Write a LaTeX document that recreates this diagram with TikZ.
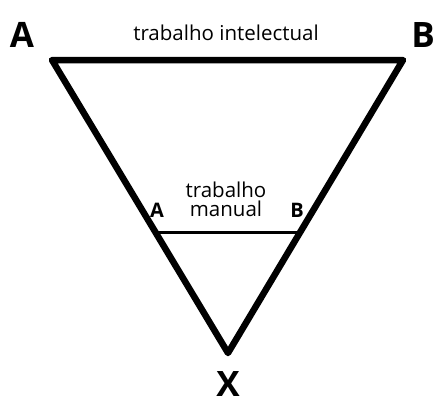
\documentclass[tikz,border=0pt]{standalone}
\usepackage{fontspec}
\setmainfont{Open Sans}
\usetikzlibrary{calc}
\begin{document}
\begin{tikzpicture}[x=1pt,y=-1pt,
  big/.style={font=\fontsize{35}{35}\selectfont\bfseries, inner sep=0pt},
  small/.style={font=\fontsize{20}{20}\selectfont\bfseries, inner sep=0pt},
  lbl/.style={font=\fontsize{20.5}{19}\selectfont, inner sep=0pt, align=center},
  edge/.style={line width=6.5pt, line join=round},
  inner/.style={line width=3pt}]
\useasboundingbox (0,0) rectangle (435,400);
\coordinate (tl) at (52,60);
\coordinate (tr) at (403,60);
\coordinate (bt) at (228,353);
\coordinate (ml) at ($(tl)!0.59!(bt)$);
\coordinate (mr) at ($(tr)!0.59!(bt)$);
\draw[inner] (ml) -- (mr);
\draw[edge] (tl) -- (tr) -- (bt) -- cycle;
\node[big] (A) at (22,35) {A};
\node[big] (B) at (423,35) {B};
\node[big] (X) at (228,384) {X};
\node[lbl] (ti) at (226,33) {trabalho intelectual};
\node[lbl] (tm) at (226,199) {trabalho\\manual};
\node[small] (a) at (157,210) {A};
\node[small] (b) at (297,210) {B};
\end{tikzpicture}
\end{document}
